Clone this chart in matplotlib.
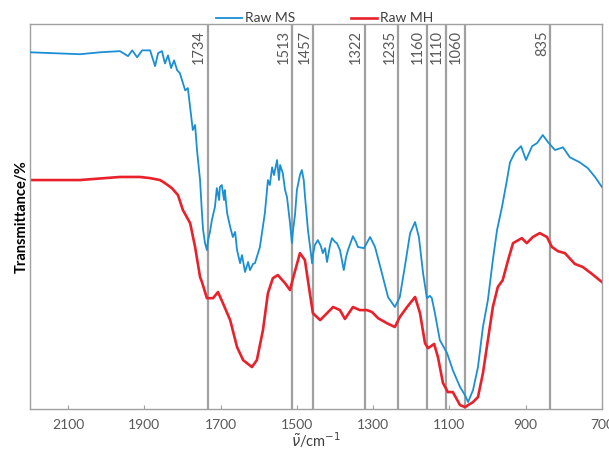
#===============================================================================
# DESCRIPTION
#    FTIR spectra of raw MS and raw MH with marked band positions
#===============================================================================
import matplotlib
matplotlib.use('Agg')
import matplotlib.pyplot as plt

#===============================================================================
# Data (transmittance in relative units)
#===============================================================================
wn_ms = [2200, 2148, 2069, 2016, 1964, 1943, 1932, 1919, 1906, 1885, 1872, 1864,
         1854, 1846, 1838, 1830, 1822, 1814, 1807, 1793, 1786, 1780, 1773, 1767,
         1762, 1754, 1749, 1746, 1741, 1736, 1733, 1728, 1723, 1715, 1710, 1704,
         1702, 1697, 1691, 1689, 1683, 1675, 1668, 1662, 1657, 1649, 1644, 1636,
         1628, 1623, 1615, 1610, 1597, 1584, 1576, 1571, 1565, 1560, 1552, 1547,
         1544, 1537, 1531, 1526, 1518, 1513, 1510, 1505, 1500, 1492, 1487, 1482,
         1479, 1471, 1466, 1460, 1458, 1453, 1445, 1437, 1432, 1426, 1421, 1413,
         1408, 1400, 1395, 1387, 1377, 1371, 1366, 1353, 1345, 1340, 1324, 1308,
         1295, 1277, 1261, 1243, 1230, 1217, 1203, 1190, 1180, 1169, 1159, 1151,
         1146, 1138, 1125, 1106, 1091, 1072, 1059, 1051, 1038, 1025, 1012, 999,
         986, 975, 962, 949, 941, 928, 912, 899, 883, 870, 855, 841, 823, 802,
         784, 758, 737, 718, 700]
t_ms = [92.7, 92.5, 92.2, 92.7, 93.0, 91.7, 93.2, 91.4, 93.2, 93.2, 89.1, 92.5,
        93.0, 89.8, 91.9, 88.6, 90.6, 88.0, 87.3, 82.8, 83.4, 78.4, 72.5, 73.8,
        67.3, 59.5, 50.9, 46.5, 43.1, 41.3, 43.9, 46.0, 49.1, 52.5, 57.4, 54.3,
        57.7, 58.2, 54.3, 56.9, 50.9, 47.3, 44.7, 46.0, 41.3, 37.9, 40.0, 35.6,
        38.2, 36.1, 37.7, 37.9, 42.1, 50.9, 59.5, 58.2, 62.8, 60.8, 64.7, 59.5,
        63.4, 61.3, 56.9, 55.1, 48.3, 43.1, 46.5, 50.4, 56.9, 60.8, 62.1, 59.5,
        55.6, 46.5, 42.6, 37.9, 40.0, 42.6, 43.9, 42.3, 40.5, 41.8, 38.2, 42.6,
        44.4, 43.4, 43.1, 41.3, 36.1, 39.5, 41.3, 44.9, 43.4, 42.1, 41.8, 44.7,
        42.1, 35.3, 29.1, 26.5, 29.1, 36.9, 45.7, 48.6, 44.7, 35.3, 28.8, 29.4,
        28.8, 24.9, 17.9, 14.5, 10.1, 5.7, 3.6, 1.8, 4.9, 10.9, 21.3, 28.3,
        38.7, 46.5, 52.5, 59.5, 64.1, 66.7, 68.3, 64.7, 68.3, 69.1, 71.2, 69.3,
        67.3, 68.0, 65.4, 64.1, 62.6, 60.3, 57.7]

wn_mh = [2200, 2069, 1964, 1912, 1885, 1859, 1846, 1828, 1812, 1799, 1780, 1767,
         1754, 1749, 1736, 1720, 1707, 1694, 1675, 1657, 1641, 1618, 1605, 1589,
         1576, 1563, 1550, 1531, 1518, 1510, 1492, 1479, 1466, 1458, 1439, 1426,
         1405, 1387, 1374, 1353, 1335, 1316, 1303, 1287, 1264, 1243, 1230, 1211,
         1190, 1177, 1164, 1156, 1140, 1130, 1117, 1104, 1091, 1072, 1059, 1038,
         1025, 1012, 999, 986, 973, 960, 946, 933, 910, 897, 881, 863, 844, 831,
         815, 797, 771, 750, 726, 700]
t_mh = [59.5, 59.5, 60.3, 60.3, 60.0, 59.5, 58.7, 57.4, 55.6, 51.7, 48.3, 42.1,
        34.3, 33.0, 28.8, 28.8, 30.4, 27.5, 23.1, 16.1, 12.7, 10.9, 12.7, 20.5,
        30.1, 34.0, 34.8, 32.7, 30.9, 34.0, 40.5, 38.7, 30.1, 24.9, 23.1, 24.4,
        26.5, 25.7, 23.4, 26.5, 25.7, 25.7, 25.2, 23.6, 22.3, 21.3, 23.9, 26.5,
        29.1, 24.9, 17.1, 15.8, 16.9, 13.5, 6.8, 4.4, 4.4, 1.0, 0.5, 1.8,
        3.1, 9.3, 17.9, 26.5, 31.7, 33.5, 38.7, 43.1, 44.4, 43.1, 44.7, 45.7,
        44.7, 42.1, 41.0, 40.5, 37.7, 36.9, 35.1, 33.0]

bands = [1734, 1513, 1457, 1322, 1235, 1160, 1110, 1060, 835]
xticks = [2100, 1900, 1700, 1500, 1300, 1100, 900, 700]

#===============================================================================
# Plot
#===============================================================================
plt.rcParams['font.family'] = ['Lato', 'DejaVu Sans']

fig = plt.figure(figsize=(6.09, 4.49), dpi=100)
ax = fig.add_axes([0.0493, 0.0891, 0.939, 0.857])

for b in bands:
    ax.axvline(b, color='#a0a0a0', lw=1.6, zorder=1)
    ax.text(b + 4, 98.5, str(b), rotation=90, ha='right', va='top',
            fontsize=10.5, color='#595959')

ax.plot(wn_ms, t_ms, color='#1a8fd4', lw=1.3, label='Raw MS', zorder=3)
ax.plot(wn_mh, t_mh, color='#e8212b', lw=1.9, label='Raw MH', zorder=2)

ax.set_xlim(2200, 700)
ax.set_ylim(0, 100)
ax.set_xticks(xticks)
ax.set_yticks([])
ax.tick_params(axis='x', direction='in', length=3, color='#a0a0a0',
               labelsize=10, labelcolor='#595959', pad=7)
for s in ax.spines.values():
    s.set_color('#a0a0a0')
    s.set_linewidth(1.0)

ax.set_xlabel(r'$\tilde{\nu}$/cm$^{-1}$', fontsize=10.5, color='#404040', labelpad=0)
ax.set_ylabel('Transmittance/%', fontsize=10.5, fontweight='bold', color='#000000', labelpad=1)

ax.legend(loc='lower center', bbox_to_anchor=(0.515, 0.985), ncol=2, frameon=False,
          fontsize=10, handlelength=1.9, handletextpad=0.2, columnspacing=4.0,
          borderaxespad=0, labelcolor='#404040')

plt.savefig('out.png', dpi=100)
